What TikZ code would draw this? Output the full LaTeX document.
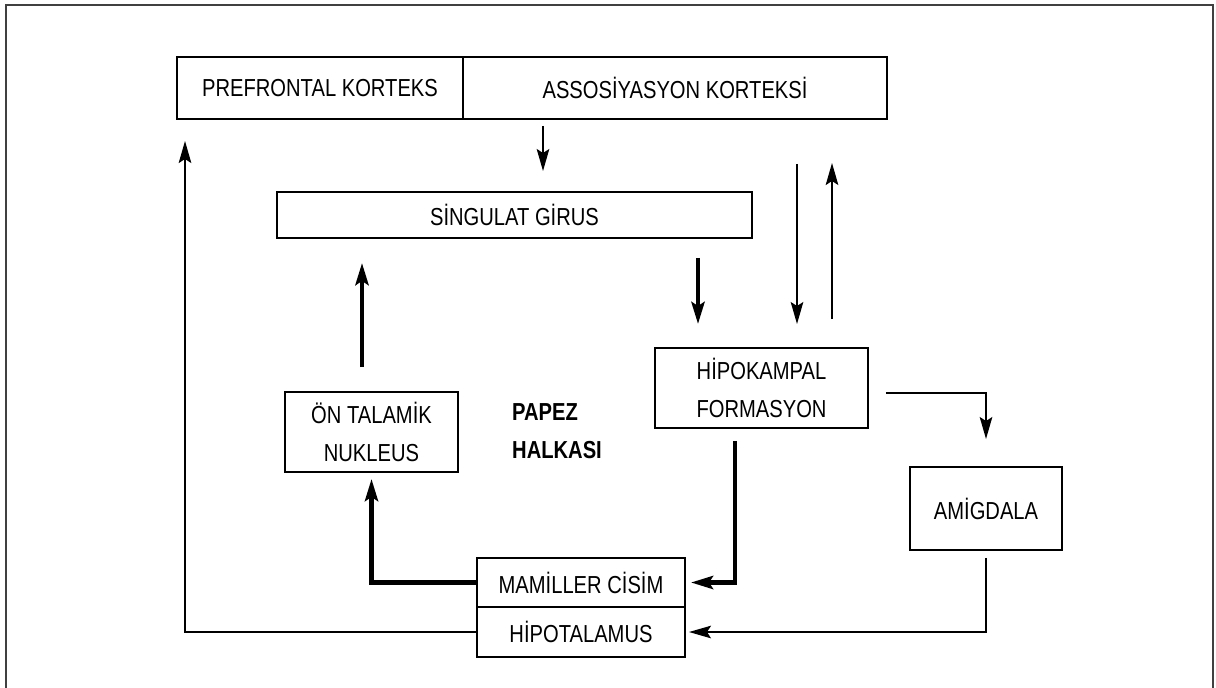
\documentclass[tikz,border=0pt]{standalone}
\usepackage{fontspec}
\setmainfont{Liberation Sans}[FakeStretch=0.82]
\usetikzlibrary{arrows.meta,positioning}

\begin{document}
\begin{tikzpicture}[x=0.02cm, y=-0.02cm,
    every node/.style={font=\fontsize{14}{22}\selectfont},
    box/.style={draw, line width=1.1pt, inner sep=0pt, align=center},
    thin/.style={line width=1.2pt, -{Stealth[length=0.44cm, width=0.25cm, inset=0.08cm]}},
    thick/.style={line width=2.6pt, -{Stealth[length=0.44cm, width=0.26cm, inset=0.08cm]}}]
  \useasboundingbox (0,0) rectangle (1216,687);
  \draw[black!75, line width=0.8pt] (6,700) -- (6,5) -- (1213,5) -- (1213,700);

  \node[box, minimum width=5.72cm, minimum height=1.24cm] (prefrontal) at (320,88) {PREFRONTAL KORTEKS};
  \node[box, minimum width=8.48cm, minimum height=1.24cm] (assoc) at (675,88) {ASSOSİYASYON KORTEKSİ};
  \node[box, minimum width=9.5cm, minimum height=0.92cm] (singulat) at (514.5,215) {SİNGULAT GİRUS};
  \node[box, minimum width=4.26cm, minimum height=1.6cm] (hipokampal) at (761.5,388) {HİPOKAMPAL\\FORMASYON};
  \node[box, minimum width=3.46cm, minimum height=1.6cm] (talamik) at (371.5,432) {ÖN TALAMİK\\NUKLEUS};
  \node[box, minimum width=3.04cm, minimum height=1.66cm] (amigdala) at (986,508.5) {AMİGDALA};
  \node[box, minimum width=4.16cm, minimum height=0.98cm] (mamiller) at (581,582.5) {MAMİLLER CİSİM};
  \node[box, minimum width=4.16cm, minimum height=1.0cm] (hipotalamus) at (581,632) {HİPOTALAMUS};
  \node[anchor=west, align=left, font=\fontsize{14}{22}\selectfont\bfseries] (papez) at (506,431) {PAPEZ\\HALKASI};

  \draw[thin, shorten <=0.12cm, shorten >=0.4cm] (543,0 |- assoc.south) -- (543,0 |- singulat.north);
  \draw[thin, shorten <=0.88cm, shorten >=0.46cm] (797,0 |- assoc.south) -- (797,0 |- hipokampal.north);
  \draw[thin, shorten <=0.56cm, shorten >=0.86cm] (832,0 |- hipokampal.north) -- (832,0 |- assoc.south);
  \draw[thick, shorten <=0.48cm, shorten >=0.48cm] (362,0 |- talamik.north) -- (362,0 |- singulat.south);
  \draw[thick, shorten <=0.38cm, shorten >=0.46cm] (698,0 |- singulat.south) -- (698,0 |- hipokampal.north);
  \draw[thin, shorten <=0.34cm, shorten >=0.54cm] ([yshift=-0.1cm]hipokampal.east) -| (amigdala.north);
  \draw[thick, shorten <=0.24cm, shorten >=0.1cm] (735,0 |- hipokampal.south) |- (mamiller.east);
  \draw[thin, shorten <=0.14cm, shorten >=0.06cm] (amigdala.south) |- (hipotalamus.east);
  \draw[thick, shorten >=0.12cm] (mamiller.west) -| (talamik.south);
  \draw[thin, shorten >=0.42cm] (hipotalamus.west) -| (185,0 |- prefrontal.south);
\end{tikzpicture}
\end{document}
